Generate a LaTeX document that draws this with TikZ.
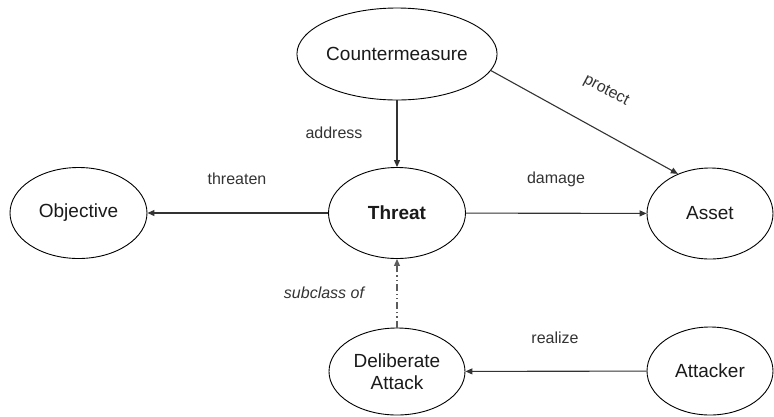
\documentclass[tikz,border=0pt]{standalone}
\usepackage{fontspec}
\setmainfont{Liberation Sans}
\usetikzlibrary{shapes.geometric,arrows.meta}
\definecolor{linec}{HTML}{333333}
\definecolor{textc}{HTML}{1A1A1A}
\tikzset{
  ent/.style={ellipse, draw=black, line width=0.9pt, inner sep=0pt, fill=white,
    minimum width=137pt, minimum height=91pt, font=\fontsize{19}{22}\selectfont,
    text=textc, align=center},
  rel/.style={draw=linec, line width=1.1pt, -{Triangle[length=7pt,width=6pt]}},
  lbl/.style={font=\fontsize{16}{19}\selectfont, text=linec, inner sep=0pt},
}
\begin{document}
\begin{tikzpicture}[x=1pt,y=-1pt]
\useasboundingbox (0,0) rectangle (774,416);
\node[ent, minimum width=184pt, minimum height=92pt] (cm) at (397,54) {Countermeasure};
\node[ent, font=\fontsize{19}{22}\selectfont\bfseries] (th) at (397,213) {Threat};
\node[ent] (ob) at (78.5,213) {Objective};
\node[ent, minimum width=126pt] (as) at (710,213.5) {Asset};
\node[ent, minimum width=136pt, minimum height=87pt] (da) at (397,371.5) {Deliberate\\Attack};
\node[ent, minimum width=126pt, minimum height=88pt] (at) at (710,371) {Attacker};

\draw[rel] (cm) -- (th);
\draw[rel] (th) -- (ob);
\draw[rel] (th) -- (as);
\draw[rel] (cm.-10) -- (as.129);
\draw[rel] (at) -- (da);
\draw[rel, draw=linec!80, dash pattern=on 7pt off 3pt on 1.2pt off 3pt on 1.2pt off 3pt] (da) -- (th);

\node[lbl] (l1) at (237,179) {threaten};
\node[lbl] (l2) at (556,179) {damage};
\node[lbl] (l3) at (334,133) {address};
\node[lbl, rotate=-28] (l4) at (606,91) {protect};
\node[lbl, font=\fontsize{16}{19}\selectfont\itshape] (l5) at (324,293) {subclass of};
\node[lbl] (l6) at (555,338) {realize};
\end{tikzpicture}
\end{document}
